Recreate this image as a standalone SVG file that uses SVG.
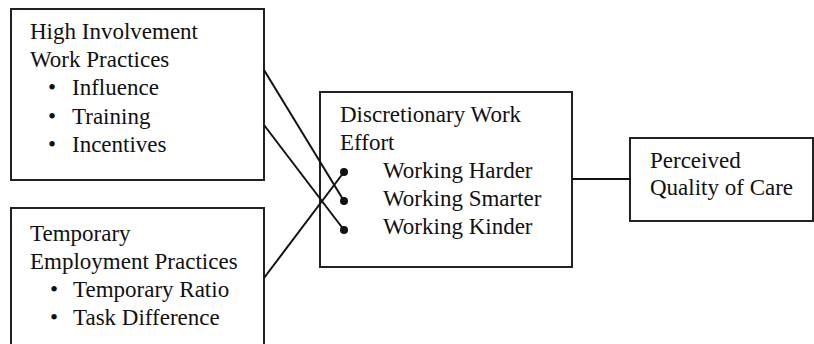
<svg xmlns="http://www.w3.org/2000/svg" width="814" height="344" viewBox="0 0 814 344">
<style>
  .box { fill: #fff; stroke: #222; stroke-width: 2; }
  .c { stroke: #111; stroke-width: 2; fill: none; }
</style>
<defs>
  <marker id="dot" viewBox="0 0 10 10" refX="5" refY="5" markerWidth="4" markerHeight="4" markerUnits="strokeWidth">
    <circle cx="5" cy="5" r="5" fill="#111"/>
  </marker>
</defs>
<rect width="814" height="344" fill="#fff"/>
<g font-family="Liberation Serif, Times New Roman, serif" font-size="23" fill="#111">
<g id="hiwp">
  <rect class="box" x="11" y="9" width="253" height="171"/>
  <text x="30" y="39">High Involvement</text>
  <text x="30" y="67">Work Practices</text>
  <text x="48" y="95">•</text><text x="72" y="95">Influence</text>
  <text x="48" y="124">•</text><text x="72" y="124">Training</text>
  <text x="48" y="152">•</text><text x="72" y="152">Incentives</text>
</g>
<g id="tep">
  <rect class="box" x="11" y="208" width="253" height="140"/>
  <text x="30" y="241">Temporary</text>
  <text x="30" y="269">Employment Practices</text>
  <text x="50" y="297">•</text><text x="73" y="297">Temporary Ratio</text>
  <text x="50" y="325">•</text><text x="73" y="325">Task Difference</text>
</g>
<g id="dwe">
  <rect class="box" x="320" y="92" width="252" height="175"/>
  <text x="340" y="122">Discretionary Work</text>
  <text x="340" y="150">Effort</text>
  <text x="383" y="178">Working Harder</text>
  <text x="383" y="206">Working Smarter</text>
  <text x="383" y="234">Working Kinder</text>
</g>
<g id="pqc">
  <rect class="box" x="630" y="138" width="183" height="83"/>
  <text x="650" y="168">Perceived</text>
  <text x="650" y="195">Quality of Care</text>
</g>
</g>
<g id="connectors">
  <line class="c" x1="264" y1="70" x2="344" y2="201" marker-end="url(#dot)"/>
  <line class="c" x1="264" y1="125" x2="344" y2="230" marker-end="url(#dot)"/>
  <line class="c" x1="264" y1="278" x2="344" y2="172" marker-end="url(#dot)"/>
  <line class="c" x1="572" y1="179" x2="630" y2="179"/>
</g>
</svg>
